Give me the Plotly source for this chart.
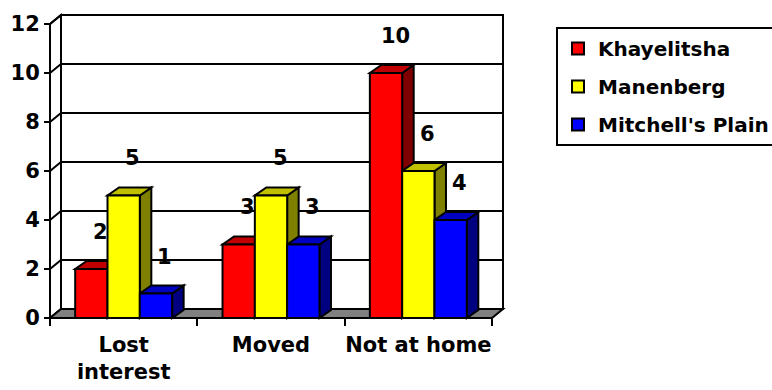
import plotly.graph_objects as go

# ---- data ----
categories = ["Lost<br>interest", "Moved", "Not at home"]
series_names = ["Khayelitsha", "Manenberg", "Mitchell's Plain"]
khayelitsha = [2, 3, 10]
manenberg = [5, 5, 6]
mitchells_plain = [1, 3, 4]
y_ticks = [0, 2, 4, 6, 8, 10, 12]

series_values = [khayelitsha, manenberg, mitchells_plain]

# ---- styles ----
front_cols = ["#FF0000", "#FFFF00", "#0000FF"]
top_cols = ["#C00000", "#C0C000", "#0000C0"]
side_cols = ["#800000", "#808000", "#000080"]
FONT = dict(family="DejaVu Sans", size=21, color="black", weight="bold")

W, H = 772, 390
AX_L, AX_R = 50, 492      # front axis pixel extent
AX_B, AX_T = 318, 24      # front axis pixel extent (0 .. ymax)
n_cat = len(categories)
ymax = max(y_ticks)
PXX = (AX_R - AX_L) / n_cat
PXY = (AX_B - AX_T) / ymax

DOM_L, DOM_R, DOM_T, DOM_B = 36, 520, 6, 328
x_range = [-0.5 - (AX_L - DOM_L) / PXX, -0.5 + (DOM_R - AX_L) / PXX]
y_range = [-(DOM_B - AX_B) / PXY, (AX_B - DOM_T) / PXY]

# depth offsets (pixels -> data units)
WDX, WDY = 11 / PXX, 9 / PXY      # walls / floor
BDX, BDY = 11.5 / PXX, 8 / PXY    # bars
BARGAP = 0.342
n_ser = len(series_names)
bw = (1 - BARGAP) / n_ser

fig = go.Figure()
for i, (name, vals) in enumerate(zip(series_names, series_values)):
    fig.add_trace(go.Bar(
        x=categories, y=vals, name=name, legendgroup=name,
        marker=dict(color=front_cols[i], line=dict(color="black", width=2)),
    ))

shapes = []
def poly(pts, fill, width=2, layer="below"):
    p = "M " + " L ".join(f"{x},{y}" for x, y in pts) + " Z"
    return dict(type="path", path=p, xref="x", yref="y", fillcolor=fill,
                line=dict(color="black", width=width), layer=layer)

xl0, xr0 = -0.5, n_cat - 0.5
# back wall
shapes.append(poly([(xl0 + WDX, WDY), (xl0 + WDX, ymax + WDY),
                    (xr0 + WDX, ymax + WDY), (xr0 + WDX, WDY)], "white"))
# left wall
shapes.append(poly([(xl0, 0), (xl0, ymax), (xl0 + WDX, ymax + WDY),
                    (xl0 + WDX, WDY)], "white"))
# gridlines
for v in y_ticks[1:]:
    shapes.append(dict(type="path",
                       path=f"M {xl0},{v} L {xl0 + WDX},{v + WDY} L {xr0 + WDX},{v + WDY}",
                       xref="x", yref="y", line=dict(color="black", width=2),
                       layer="below"))
# floor
shapes.append(poly([(xl0, 0), (xr0, 0), (xr0 + WDX, WDY), (xl0 + WDX, WDY)],
                   "#808080"))
# bar tops and sides
for c in range(n_cat):
    for i, vals in enumerate(series_values):
        v = vals[c]
        cx = c + (i - (n_ser - 1) / 2) * bw
        xl, xr = cx - bw / 2, cx + bw / 2
        shapes.append(poly([(xr, 0), (xr, v), (xr + BDX, v + BDY), (xr + BDX, BDY)],
                           side_cols[i]))
        shapes.append(poly([(xl, v), (xr, v), (xr + BDX, v + BDY), (xl + BDX, v + BDY)],
                           top_cols[i]))

# data labels
annotations = []
for c in range(n_cat):
    for i, vals in enumerate(series_values):
        cx = c + (i - (n_ser - 1) / 2) * bw
        annotations.append(dict(x=cx, y=vals[c], xref="x", yref="y",
                                text=str(vals[c]), showarrow=False,
                                xshift=9, yshift=37, font=FONT))

fig.update_layout(
    width=W, height=H,
    margin=dict(l=0, r=0, t=0, b=0, pad=0, autoexpand=False),
    paper_bgcolor="white", plot_bgcolor="rgba(0,0,0,0)",
    barmode="group", bargap=BARGAP, bargroupgap=0,
    shapes=shapes, annotations=annotations,
    font=FONT,
    xaxis=dict(domain=[DOM_L / W, DOM_R / W], range=x_range, type="category",
               anchor="free", position=1 - AX_B / H,
               showgrid=False, zeroline=False, showline=False,
               ticks="outside", tickson="boundaries", ticklen=7, tickwidth=2,
               tickcolor="black", tickfont=FONT, tickangle=0,
               ticklabelstandoff=12, fixedrange=True),
    yaxis=dict(domain=[1 - DOM_B / H, 1 - DOM_T / H], range=y_range,
               anchor="free", position=AX_L / W,
               tickvals=y_ticks, showgrid=False, zeroline=False, showline=False,
               ticks="outside", ticklen=6, tickwidth=2, tickcolor="black",
               tickfont=FONT, fixedrange=True),
    legend=dict(x=556 / W, y=1 - 27 / H, xanchor="left", yanchor="top",
                bgcolor="white", bordercolor="black", borderwidth=2,
                font=dict(family="DejaVu Sans", size=20, color="black", weight="bold"),
                traceorder="grouped", tracegroupgap=9),
    showlegend=True,
)

# front y-axis line (drawn on top of walls)
fig.add_shape(type="line", x0=xl0, x1=xl0, y0=0, y1=ymax, xref="x", yref="y",
              line=dict(color="black", width=2), layer="below")

fig.write_html("out.html")
